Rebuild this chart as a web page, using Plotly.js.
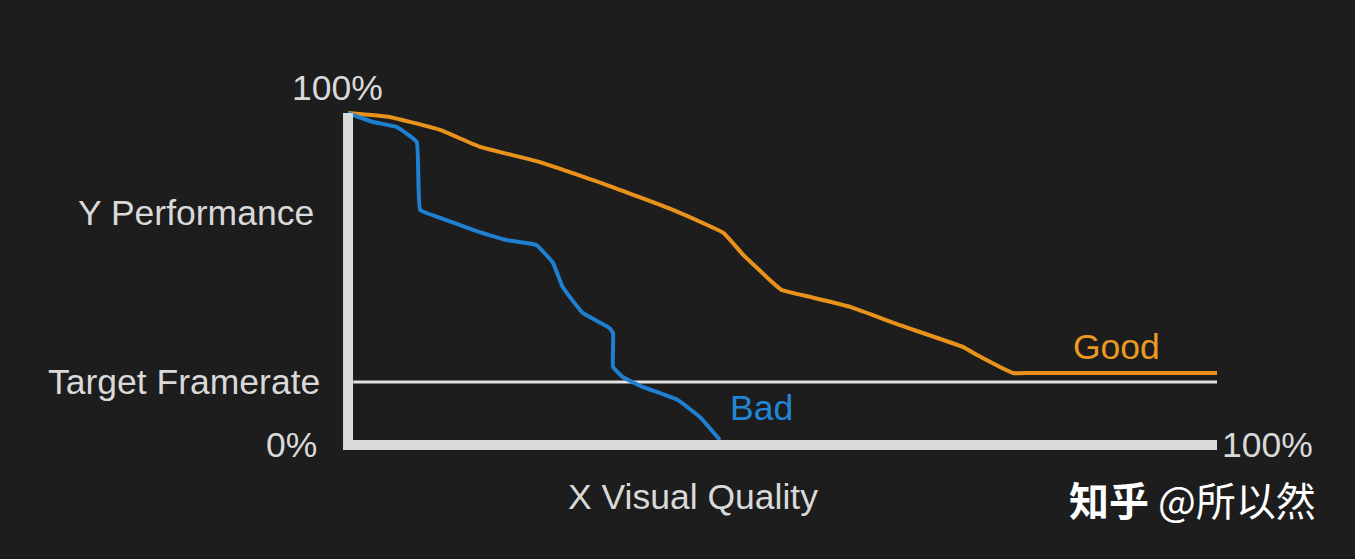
<!DOCTYPE html>
<html>
<head>
<meta charset="utf-8">
<script src="https://cdn.plot.ly/plotly-3.0.1.min.js"></script>
<style>
html,body{margin:0;padding:0;background:#1d1d1d;}
#chart{width:1355px;height:559px;}
</style>
</head>
<body>
<div id="chart"></div>
<script>
// Good curve (X Visual Quality %, Y Performance %)
const goodX = [0, 4.8, 10.6, 15.2, 22.1, 29.8, 37.4, 43.2, 45.5, 48.8, 49.9, 53.2, 57.8, 63.5, 70.8, 72.4, 76.5, 78.5, 100];
const goodY = [100, 98.8, 94.9, 89.8, 85.2, 78.3, 70.8, 63.9, 57.2, 49.1, 46.7, 44.6, 41.6, 36.1, 29.5, 27.1, 21.7, 21.7, 21.7];
// Bad curve
const badX = [0, 2.9, 5.6, 7.9, 8.3, 10.6, 14.4, 18.3, 21.7, 23.6, 24.7, 27.0, 30.1, 30.5, 30.5, 31.6, 33.9, 37.9, 40.5, 42.8];
const badY = [100, 97.3, 95.8, 91.3, 70.8, 68.4, 64.8, 61.7, 60.2, 54.8, 47.6, 39.8, 35.2, 33.7, 23.5, 20.5, 17.5, 13.6, 8.4, 1.5];
const targetFramerate = 19;
const seriesNames = ["Good", "Bad"];
const yLabels = ["100%", "Y Performance", "Target Framerate", "0%"];
const xLabels = ["100%", "X Visual Quality"];

const fg = "#d9d9d9";
const font = "'Liberation Sans', Arial, sans-serif";
const fs = 35.5;

const traces = [
  {x: goodX, y: goodY, mode: "lines", name: seriesNames[0],
   line: {color: "#e8921c", width: 4, shape: "spline", smoothing: 0.3}, hoverinfo: "skip"},
  {x: badX, y: badY, mode: "lines", name: seriesNames[1],
   line: {color: "#1f80d2", width: 4, shape: "spline", smoothing: 0.3}, hoverinfo: "skip"},
  // axes drawn as thick lines
  {x: [0, 0, 100], y: [100, 0, 0], mode: "lines",
   line: {color: "#d9d9d9", width: 10}, hoverinfo: "skip"}
];

const layout = {
  width: 1355, height: 559,
  paper_bgcolor: "#1d1d1d", plot_bgcolor: "#1d1d1d",
  margin: {l: 0, r: 0, t: 0, b: 0},
  showlegend: false,
  xaxis: {range: [-40.05, 115.88], visible: false, fixedrange: true},
  yaxis: {range: [-34.34, 134.04], visible: false, fixedrange: true},
  shapes: [
    {type: "line", xref: "x", yref: "y", x0: 0.6, x1: 100, y0: targetFramerate, y1: targetFramerate,
     line: {color: "#e2e2e2", width: 3}, layer: "below"}
  ],
  annotations: [
    {x: -1.2, y: 107.5, text: yLabels[0], xanchor: "center", yanchor: "middle", showarrow: false, font: {family: font, size: fs, color: fg}},
    {x: -3.7, y: 70, text: yLabels[1], xanchor: "right", yanchor: "middle", showarrow: false, font: {family: font, size: fs, color: fg}},
    {x: -3, y: 19, text: yLabels[2], xanchor: "right", yanchor: "middle", showarrow: false, font: {family: font, size: fs, color: fg}},
    {x: -3.3, y: 0, text: yLabels[3], xanchor: "right", yanchor: "middle", showarrow: false, font: {family: font, size: fs, color: fg}},
    {x: 100.4, y: 0, text: xLabels[0], xanchor: "left", yanchor: "middle", showarrow: false, font: {family: font, size: fs, color: fg}},
    {x: 39.7, y: -15.8, text: xLabels[1], xanchor: "center", yanchor: "middle", showarrow: false, font: {family: font, size: fs, color: fg}},
    {x: 88.4, y: 29.5, text: seriesNames[0], xanchor: "center", yanchor: "middle", showarrow: false, font: {family: font, size: fs, color: "#ea9a22"}},
    {x: 47.6, y: 11, text: seriesNames[1], xanchor: "center", yanchor: "middle", showarrow: false, font: {family: font, size: fs, color: "#2186d8"}},
    {xref: "paper", yref: "paper", x: 0.973, y: 0.108, text: "<b>知乎</b> @所以然", xanchor: "right", yanchor: "middle", showarrow: false,
     font: {family: "Noto Sans CJK SC", size: 40, color: "#ffffff"}}
  ]
};

Plotly.newPlot("chart", traces, layout, {staticPlot: true, displayModeBar: false});
</script>
</body>
</html>
